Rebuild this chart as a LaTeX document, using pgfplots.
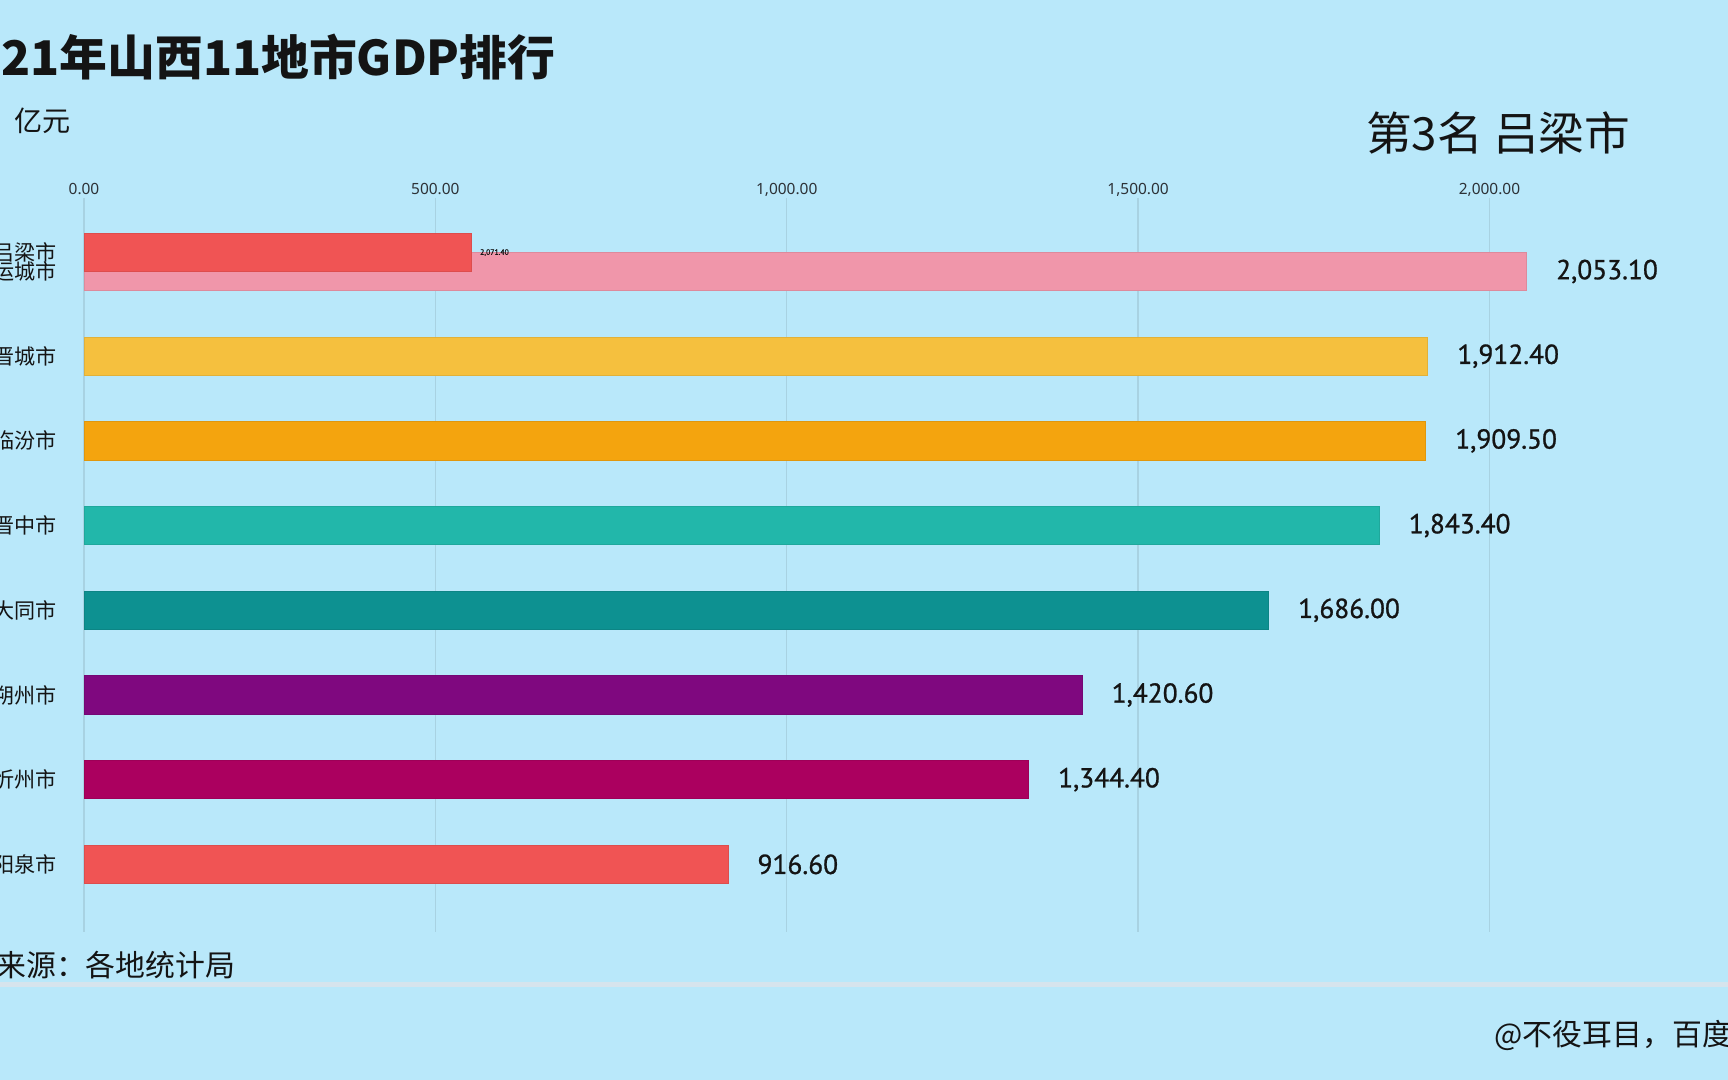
\documentclass[border=0pt]{standalone}
\usepackage{pgfplots}
\pgfplotsset{compat=1.18}
\usepackage{fontspec}
\setmainfont{Noto Sans}
\newfontfamily\cjk{Noto Sans CJK SC}
\newfontfamily\num[FakeBold=0.9]{PT Sans}

\definecolor{bg}{RGB}{185,232,250}
\definecolor{gridc}{RGB}{168,210,226}
\definecolor{tickc}{RGB}{45,50,55}
\definecolor{txt}{RGB}{20,20,20}
\definecolor{rulec}{RGB}{214,228,237}
\definecolor{cLvliang}{RGB}{240,84,84}
\definecolor{cYuncheng}{RGB}{240,150,170}
\definecolor{cJincheng}{RGB}{245,192,62}
\definecolor{cLinfen}{RGB}{244,164,14}
\definecolor{cJinzhong}{RGB}{34,183,170}
\definecolor{cDatong}{RGB}{13,145,145}
\definecolor{cShuozhou}{RGB}{127,8,127}
\definecolor{cXinzhou}{RGB}{171,0,95}
\definecolor{cYangquan}{RGB}{240,84,84}

\pgfplotsset{
  citybar/.style={xbar, bar shift=0pt, bar width=0.384cm, fill=#1, draw=#1!92!black, line width=0.25pt},
}
\tikzset{
  bignum/.style={anchor=west, inner sep=0pt, xshift=0.29cm, text=txt, font=\num\fontsize{7.8}{9}\selectfont},
  smallnum/.style={anchor=west, inner sep=0pt, xshift=0.08cm, text=txt, font=\num\fontsize{2.2}{3}\selectfont},
}

\begin{document}
\begin{tikzpicture}
\fill[bg] (0,0) rectangle (17.28,10.8);
\path[use as bounding box] (0,0) rectangle (17.28,10.8);

\begin{axis}[
  at={(0.84cm,1.483cm)}, anchor=south west,
  scale only axis, width=15.46cm, height=7.337cm,
  xmin=0, xmax=2200, ymin=0.132, ymax=8.795, y dir=reverse,
  axis line style={draw=none}, major tick length=0pt,
  xtick={0,500,1000,1500,2000},
  xmajorgrids, major x grid style={color=gridc, line width=0.4pt},
  xticklabel pos=upper,
  xticklabel style={anchor=base, yshift=0.03cm, text=tickc, font=\fontsize{4.4}{5}\selectfont},
  /pgf/number format/fixed, /pgf/number format/fixed zerofill,
  /pgf/number format/precision=2, /pgf/number format/1000 sep={,},
  /pgf/number format/assume math mode=true,
  ytick={0.777,1,2,3,4,5,6,7,8},
  yticklabels={吕梁市,运城市,晋城市,临汾市,晋中市,大同市,朔州市,忻州市,阳泉市},
  yticklabel style={anchor=east, inner sep=0pt, xshift=-0.27cm, text=txt, font=\cjk\fontsize{6}{7}\selectfont},
  clip=false,
  nodes near coords, point meta=explicit,
  every node near coord/.style={bignum},
]
% 运城 drawn first, 吕梁 slides in over it
\addplot[citybar=cYuncheng] coordinates {(2053.1,1) [2053.1]};
\addplot[citybar=cLvliang, every node near coord/.style={smallnum}] coordinates {(551.7,0.777) [2071.4]};
\addplot[citybar=cJincheng] coordinates {(1912.4,2) [1912.4]};
\addplot[citybar=cLinfen] coordinates {(1909.5,3) [1909.5]};
\addplot[citybar=cJinzhong] coordinates {(1843.4,4) [1843.4]};
\addplot[citybar=cDatong] coordinates {(1686.0,5) [1686.0]};
\addplot[citybar=cShuozhou] coordinates {(1420.6,6) [1420.6]};
\addplot[citybar=cXinzhou] coordinates {(1344.4,7) [1344.4]};
\addplot[citybar=cYangquan] coordinates {(916.6,8) [916.6]};
\end{axis}

% titles and notes
\node[anchor=base east, inner sep=0pt, text=txt, font=\cjk\bfseries\fontsize{13.6}{15}\selectfont] at (5.56,10.04) {2021年山西11地市GDP排行};
\node[anchor=east, inner sep=0pt, text=txt, font=\cjk\fontsize{8}{9}\selectfont] at (0.71,9.59) {单位：亿元};
\node[anchor=east, inner sep=0pt, text=txt, font=\cjk\fontsize{13}{15}\selectfont] at (16.31,9.47) {第3名 吕梁市};
\node[anchor=east, inner sep=0pt, text=txt, font=\cjk\fontsize{8.5}{10}\selectfont] at (2.36,1.15) {数据来源：各地统计局};
\fill[rulec] (0,0.93) rectangle (17.28,0.98);
\node[anchor=west, inner sep=0pt, text=txt, font=\cjk\fontsize{8.5}{10}\selectfont] at (14.94,0.45) {@不役耳目，百度};
\end{tikzpicture}
\end{document}
